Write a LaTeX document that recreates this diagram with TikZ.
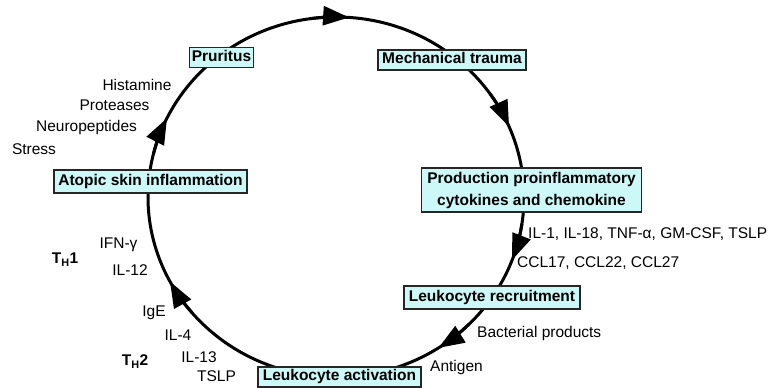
\documentclass[tikz,border=0pt]{standalone}
\usepackage{fontspec}
\setmainfont{Liberation Sans}
\usetikzlibrary{arrows.meta}
\definecolor{boxcyan}{RGB}{204,248,248}
\begin{document}
\begin{tikzpicture}[x=1pt,y=1pt,
  box/.style={draw=black!85, line width=1.3pt, fill=boxcyan, font=\bfseries\fontsize{15.5}{21}\selectfont, inner xsep=2pt, inner ysep=2.5pt, text height=11.5pt, text depth=3.5pt},
  boxtwo/.style={draw=black!85, line width=1.3pt, fill=boxcyan, font=\bfseries\fontsize{15.5}{22}\selectfont, inner xsep=3pt, inner ysep=2pt, align=center},
  lab/.style={font=\fontsize{15.5}{18}\selectfont, inner sep=0pt, text height=11pt, text depth=0pt},
  cyc/.style={line width=3pt},
  tipar/.style={line width=3pt, -{Triangle[length=26pt,width=19pt]}}]
\useasboundingbox (0,0) rectangle (777,388);
\coordinate (c) at (336,191);
\draw[cyc] (c) ellipse[x radius=188pt, y radius=180pt];
% arrow heads (clockwise flow)
\foreach \t in {86,23,-20.5,-57,208,154}{
  \draw[tipar] ([shift={(\t+12:188pt and 180pt)}]c) arc[start angle=\t+12, end angle=\t, x radius=188pt, y radius=180pt];
}
% boxes
\node[box, minimum width=63pt] (prur) at (221.5,330.5) {Pruritus};
\node[box, minimum width=148pt] (mech) at (452,328) {Mechanical trauma};
\node[boxtwo, minimum width=220pt, minimum height=44pt] (prod) at (531.5,198) {Production proinflammatory\\cytokines and chemokine};
\node[box, minimum width=176pt, minimum height=23pt] (recr) at (492,90.5) {Leukocyte recruitment};
\node[box, minimum width=163pt] (act) at (339.5,11) {Leukocyte activation};
\node[box, minimum width=193pt, minimum height=23pt] (atop) at (150.5,206.5) {Atopic skin inflammation};
% labels
\node[lab] (his) at (137,303) {Histamine};
\node[lab] (pro) at (114.5,283) {Proteases};
\node[lab] (neu) at (86.5,262) {Neuropeptides};
\node[lab] (str) at (34,239) {Stress};
\node[lab] (ifn) at (118.5,145) {IFN-γ};
\node[lab] (th1) at (65,130) {\textbf{T\textsubscript{H}1}};
\node[lab] (il12) at (130,118) {IL-12};
\node[lab] (ige) at (154,77) {IgE};
\node[lab] (il4) at (178,53) {IL-4};
\node[lab] (th2) at (135,28) {\textbf{T\textsubscript{H}2}};
\node[lab] (il13) at (199,31) {IL-13};
\node[lab] (tslp) at (216.5,12) {TSLP};
\node[lab, anchor=west] (cyt) at (528,155) {IL-1, IL-18, TNF-α, GM-CSF, TSLP};
\node[lab, anchor=west] (ccl) at (517,126) {CCL17, CCL22, CCL27};
\node[lab, anchor=west] (bac) at (477,56) {Bacterial products};
\node[lab, anchor=west] (ant) at (430,22) {Antigen};
\end{tikzpicture}
\end{document}
